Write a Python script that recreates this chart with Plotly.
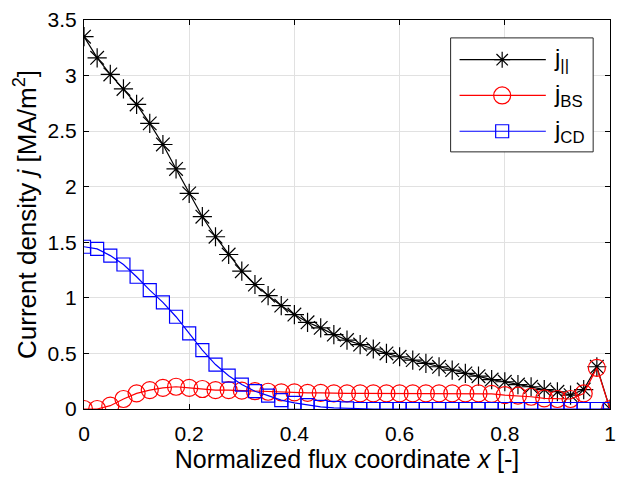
import plotly.graph_objects as go

x = [i * 0.025 for i in range(41)]

j_par = [3.35, 3.16, 3.01, 2.88, 2.74, 2.57, 2.38, 2.16, 1.94, 1.73,
         1.55, 1.39, 1.24, 1.12, 1.02, 0.93, 0.85, 0.78, 0.73, 0.67,
         0.62, 0.58, 0.54, 0.50, 0.47, 0.44, 0.41, 0.38, 0.35, 0.32,
         0.295, 0.265, 0.245, 0.22, 0.20, 0.175, 0.155, 0.125, 0.175, 0.38, 0.0]

j_bs = [0.0, 0.0, 0.03, 0.09, 0.14, 0.17, 0.19, 0.20, 0.19, 0.18,
        0.17, 0.17, 0.165, 0.16, 0.155, 0.15, 0.15, 0.145, 0.145, 0.14,
        0.14, 0.14, 0.14, 0.14, 0.14, 0.14, 0.14, 0.14, 0.14, 0.14,
        0.14, 0.136, 0.125, 0.12, 0.11, 0.095, 0.09, 0.09, 0.14, 0.37, 0.0]

j_cd = [1.46, 1.44, 1.38, 1.30, 1.19, 1.07, 0.96, 0.83, 0.68, 0.53,
        0.40, 0.30, 0.22, 0.16, 0.12, 0.08, 0.055, 0.035, 0.02, 0.01,
        0.005, 0.0, 0.0, 0.0, 0.0, 0.0, 0.0, 0.0, 0.0, 0.0,
        0.0, 0.0, 0.0, 0.0, 0.0, 0.0, 0.0, 0.0, 0.0, 0.0, 0.0]

names = ["j<sub>||</sub>", "j<sub>BS</sub>", "j<sub>CD</sub>"]
colors = ["black", "red", "blue"]

x_ticks = [0, 0.2, 0.4, 0.6, 0.8, 1]
x_ticklabels = ["0", "0.2", "0.4", "0.6", "0.8", "1"]
y_ticks = [0, 0.5, 1, 1.5, 2, 2.5, 3, 3.5]
y_ticklabels = ["0", "0.5", "1", "1.5", "2", "2.5", "3", "3.5"]

FONT = "Liberation Sans, Arial, Helvetica, sans-serif"
LW = 1.2

fig = go.Figure()
fig.add_trace(go.Scatter(
    x=x, y=j_par, name=names[0], mode="lines+markers",
    line=dict(color=colors[0], width=LW),
    marker=dict(symbol="asterisk-open", size=16, color=colors[0],
                line=dict(color=colors[0], width=LW)),
))
fig.add_trace(go.Scatter(
    x=x, y=j_bs, name=names[1], mode="lines+markers",
    line=dict(color=colors[1], width=LW),
    marker=dict(symbol="circle-open", size=17, color=colors[1],
                line=dict(color=colors[1], width=LW)),
))
fig.add_trace(go.Scatter(
    x=x, y=j_cd, name=names[2], mode="lines+markers",
    line=dict(color=colors[2], width=LW),
    marker=dict(symbol="square-open", size=13, color=colors[2],
                line=dict(color=colors[2], width=LW)),
))

axis_common = dict(
    showline=True, linecolor="black", linewidth=1, mirror="ticks",
    ticks="inside", ticklen=5, tickcolor="black", tickwidth=1,
    showgrid=True, gridcolor="#e1e1e1", gridwidth=1,
    zeroline=False, tickfont=dict(family=FONT, size=21, color="black"),
)

# ---- manual legend (MATLAB style: long sample lines) ----
legend_box = dict(x0=0.697, x1=0.968, y0=0.661, y1=0.954)
legend_rows = [0.898, 0.806, 0.714]
line_x0, line_x1, mark_x, text_x = 0.714, 0.878, 0.795, 0.889

shapes = [dict(type="rect", xref="paper", yref="paper", layer="above",
               fillcolor="white", line=dict(color="#262626", width=1),
               **legend_box)]
annotations = []
for k, ry in enumerate(legend_rows):
    c = colors[k]
    shapes.append(dict(type="line", xref="paper", yref="paper", layer="above",
                       x0=line_x0, x1=line_x1, y0=ry, y1=ry,
                       line=dict(color=c, width=LW)))
    common = dict(xref="paper", yref="paper", layer="above",
                  xsizemode="pixel", ysizemode="pixel",
                  xanchor=mark_x, yanchor=ry, line=dict(color=c, width=LW))
    if k == 0:
        r, d = 8, 5.7
        path = (f"M0,{-r}L0,{r}M{-r},0L{r},0"
                f"M{-d},{-d}L{d},{d}M{-d},{d}L{d},{-d}")
        shapes.append(dict(type="path", path=path, **common))
    elif k == 1:
        shapes.append(dict(type="circle", x0=-8.5, x1=8.5, y0=-8.5, y1=8.5,
                           fillcolor="rgba(0,0,0,0)", **common))
    else:
        shapes.append(dict(type="rect", x0=-6.5, x1=6.5, y0=-6.5, y1=6.5,
                           fillcolor="rgba(0,0,0,0)", **common))
    annotations.append(dict(xref="paper", yref="paper", x=text_x, y=ry,
                            xanchor="left", yanchor="middle", showarrow=False,
                            text=names[k],
                            font=dict(family=FONT, size=24, color="black")))

fig.update_layout(
    width=624, height=479,
    margin=dict(l=84, r=8, t=17, b=70),
    paper_bgcolor="white", plot_bgcolor="white",
    font=dict(family=FONT, color="black"),
    showlegend=False,
    xaxis=dict(range=[0, 1], tickvals=x_ticks, ticktext=x_ticklabels,
               ticklabelstandoff=6,
               title=dict(text="Normalized flux coordinate <i>x</i> [-]",
                          font=dict(family=FONT, size=25), standoff=5),
               **axis_common),
    yaxis=dict(range=[0, 3.5], tickvals=y_ticks, ticktext=y_ticklabels,
               ticklabelstandoff=2,
               title=dict(text="Current density <i>j</i> [MA/m<sup>2</sup>]",
                          font=dict(family=FONT, size=26), standoff=3),
               **axis_common),
    shapes=shapes,
    annotations=annotations,
)

fig.write_html("out.html")
